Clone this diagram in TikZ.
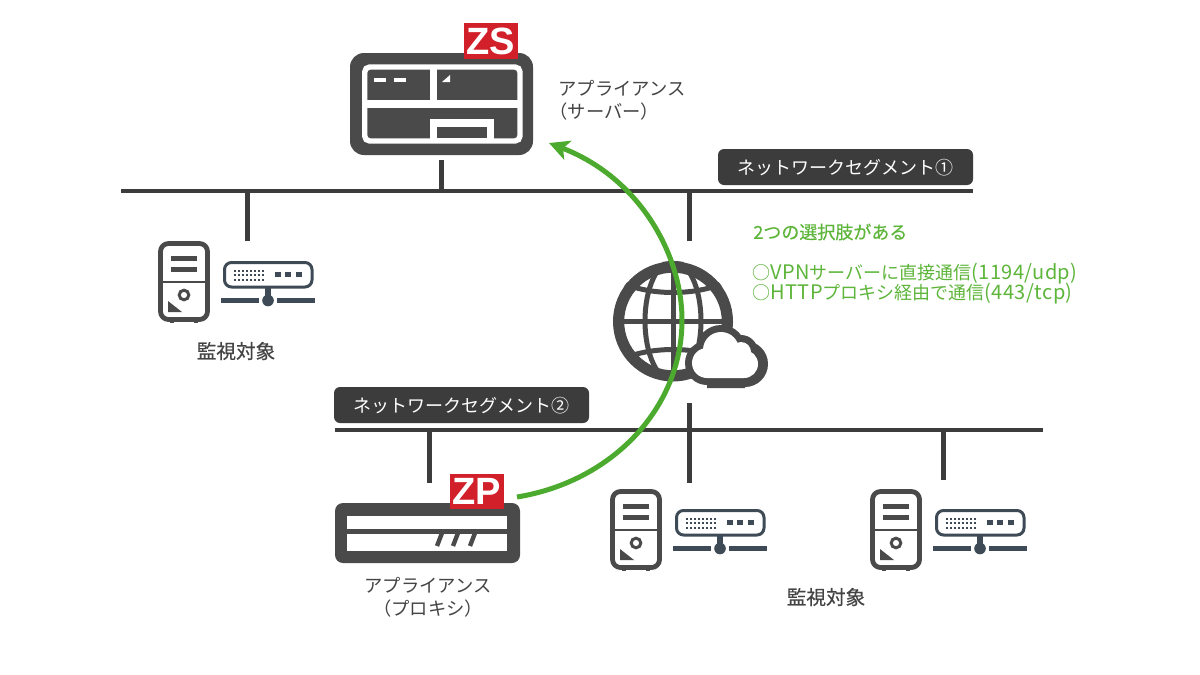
\documentclass[tikz,border=0pt]{standalone}
\usepackage{fontspec}
\setmainfont{Noto Sans CJK JP}
\newfontfamily\badgefont{Liberation Sans}
\newfontfamily\medf[FakeBold=0.35]{Noto Sans CJK JP}
\newfontfamily\latfam[LetterSpace=2]{Noto Sans CJK JP}
\newcommand{\latf}{\latfam\fontsize{10}{11}\selectfont}
\usetikzlibrary{arrows.meta}
\definecolor{dk}{HTML}{4A4A4A}
\definecolor{bar}{HTML}{3C3C3C}
\definecolor{sw}{HTML}{3E4A55}
\definecolor{grn}{HTML}{4CAA2E}
\definecolor{txtg}{HTML}{5DB53A}
\definecolor{redb}{HTML}{D2202A}
\definecolor{txt}{HTML}{444444}
\tikzset{
 bus/.style={draw=bar,line width=2.3pt},
 stub/.style={draw=bar,line width=2.5pt},
 pill/.style={fill=bar,rounded corners=3pt,text=white,font=\fontsize{9}{11}\selectfont,minimum width=127.5pt,minimum height=18pt,inner sep=0pt,text height=9.4pt,text depth=2pt},
 badge/.style={fill=redb,text=white,font=\badgefont\bfseries\fontsize{19}{19}\selectfont,minimum width=27pt,minimum height=17.7pt,inner sep=0pt},
 lab/.style={text=txt,font=\fontsize{9.15}{11.5}\selectfont,align=center,inner sep=0pt},
 labb/.style={text=txt,font=\medf\fontsize{9.8}{11}\selectfont,inner sep=0pt},
 gtext/.style={text=txtg,font=\fontsize{9}{11}\selectfont,inner sep=0pt,anchor=west},
}
\newcommand{\hostpair}[3]{%
 \begin{scope}[shift={(#1,#2)}]
  \coordinate (#3) at (247,241);
  % tower
  \fill[dk] (170,318) rectangle (174,323);
  \fill[dk] (194,318) rectangle (198,323);
  \draw[dk,line width=2.4pt,rounded corners=4pt,fill=white] (160.5,243.5) rectangle (207.5,319.5);
  \draw[dk,line width=1pt] (160,282) -- (208,282);
  \fill[dk] (171,256) rectangle (197,261);
  \fill[dk] (171,267) rectangle (197,272);
  \draw[dk,line width=1.5pt] (184,295) circle (2.4pt);
  \fill[dk] (168,301) -- (182,312) -- (168,312) -- cycle;
  % switch
  \draw[sw,line width=1.5pt,rounded corners=3.5pt] (224.5,262.5) rectangle (312,287);
  \foreach \xx in {234,238,...,262} \foreach \yy in {269.5,274,278.5} \fill[sw] (\xx,\yy) rectangle +(2,2);
  \foreach \xx in {275,285,296} \fill[sw] (\xx,272) rectangle +(5.5,5);
  \fill[sw] (265,287) rectangle (271,296);
  \fill[sw] (268,300.5) circle (2.9pt);
  \fill[sw] (221,298) rectangle (259,303);
  \fill[sw] (277,298) rectangle (315,303);
 \end{scope}}
\begin{document}
\begin{tikzpicture}[x=0.5pt,y=-0.5pt]
\useasboundingbox (0,0) rectangle (1200,675);
\fill[white] (0,0) rectangle (1200,675);
% named ends
\coordinate (b1l) at (121,191);
\coordinate (b1r) at (973,191);
\coordinate (b2l) at (335,430);
\coordinate (b2r) at (1043,430);
\coordinate (gtop) at (689,241);
\coordinate (gbot) at (689,403);
\coordinate (zsdrop) at (441,160);
\coordinate (zptop) at (429,483);
\coordinate (h3top) at (689,483);
\coordinate (arrowstart) at (517,497);
\coordinate (arrowmid) at (682,320);
\coordinate (arrowend) at (549,143);
% server appliance
\node[fill=dk,rounded corners=7pt,minimum width=91.5pt,minimum height=51pt,inner sep=0pt] (zsbox) at (441.5,104) {};
\draw[white,line width=2.7pt,rounded corners=2.5pt] (364.7,67) rectangle (520,141);
\fill[white] (430,68) rectangle (437,103);
\fill[white] (365,100) rectangle (520,108);
\fill[white] (430,119) rectangle (494,140);
\fill[dk] (437,127) rectangle (487,138);
\fill[white] (374,77.5) rectangle (386,81.5);
\fill[white] (394,77.5) rectangle (406,81.5);
\fill[white] (442,82) -- (450,75) -- (450,82) -- cycle;
\node[badge] (zs) at (491,41) {ZS};
% proxy appliance
\node[fill=dk,rounded corners=4pt,minimum width=92.5pt,minimum height=30pt,inner sep=0pt] (zpbox) at (427.5,533) {};
\fill[white] (347,516) rectangle (507,529);
\fill[white] (347,534) rectangle (507,551);
\foreach \xx in {437,453,470} \draw[dk,line width=2.2pt] (\xx,546) -- (\xx+5,533);
\node[badge] (zp) at (477,491.5) {ZP};
% hosts
\hostpair{0}{0}{ta}
\hostpair{452}{248}{tb}
\hostpair{712}{248}{tc}
% buses and stubs
\draw[bus] (b1l) -- (b1r);
\draw[bus] (b2l) -- (b2r);
\draw[stub] (zsdrop) -- (zsdrop |- b1l);
\draw[stub] (ta) -- (ta |- b1l);
\draw[stub] (gtop) -- (gtop |- b1l);
\draw[stub] (gbot) -- (h3top);
\draw[stub] (zptop) -- (zptop |- b2l);
\coordinate (tctop) at (943,480);
\draw[stub] (tctop) -- (tctop |- b2l);
% globe
\begin{scope}
 \clip (673,321) circle (30pt);
 \draw[dk,line width=2.5pt] (673,261) -- (673,381);
 \draw[dk,line width=2.5pt] (613,321) -- (733,321);
 \draw[dk,line width=2.5pt] (673,321) ellipse (14pt and 30pt);
 \draw[dk,line width=2.5pt] (620,282) .. controls (650,296) and (696,296) .. (726,282);
 \draw[dk,line width=2.5pt] (620,360) .. controls (650,346) and (696,346) .. (726,360);
\end{scope}
\node[circle,draw=dk,line width=5.6pt,minimum size=54.4pt,inner sep=0pt] (globe) at (673,321.5) {};
% cloud
\fill[dk] (721,350) circle (12.5pt) (745,364) circle (11.5pt) (707,363) circle (11pt) (741,352) circle (8.5pt) (707,362) rectangle (745,388);
\fill[white] (721,350) circle (9pt) (744,364) circle (7pt) (707,363) circle (7.5pt) (741,352) circle (5pt) (707,358) rectangle (744,378);
% green arrow
\draw[grn,line width=2.5pt,-{Stealth[length=10pt,width=10pt,inset=2.5pt]}] (arrowstart) .. controls (610,482) and (682,410) .. (arrowmid) .. controls (682,255) and (640,178) .. (arrowend);
% pills
\node[pill] (seg1) at (845.5,167) {ネットワークセグメント①};
\node[pill] (seg2) at (461.5,405) {ネットワークセグメント②};
% labels
\node[lab,align=left,anchor=north west] (l1) at (549,80) {\hspace*{4.5pt}アプライアンス\\（サーバー）};
\node[lab] (l2) at (428,597) {アプライアンス\\（プロキシ）};
\node[labb] (m1) at (236,351) {監視対象};
\node[labb] (m2) at (826,597) {監視対象};
\node[gtext,font=\medf\fontsize{9}{11}\selectfont] (g1) at (753,232) {2つの選択肢がある};
\node[gtext] (g2) at (752,274) {○{\latf VPN}サーバーに直接通信{\latf (1194/udp)}};
\node[gtext] (g3) at (752,294) {○{\latf HTTP}プロキシ経由で通信{\latf (443/tcp)}};
\end{tikzpicture}
\end{document}
